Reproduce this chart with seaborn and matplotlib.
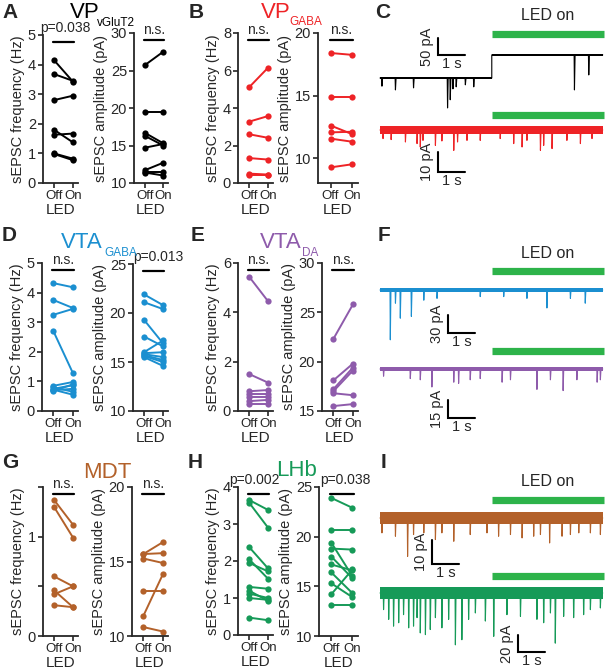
import matplotlib
matplotlib.use('Agg')
import matplotlib.pyplot as plt
import seaborn as sns
import pandas as pd

W, H = 606, 671

# colours
BLACK = '#000000'
RED = '#EE2326'
BLUE = '#1B8FD0'
PURPLE = '#8E5BAB'
BROWN = '#B3612A'
GREEN = '#169A58'
LED_GREEN = '#2DB34A'

# ---- paired Off/On data (one value per cell) ----
a_freq_off = [4.15, 3.68, 2.80, 1.80, 1.63, 1.00, 0.98]
a_freq_on = [3.42, 3.45, 2.95, 1.37, 1.67, 0.82, 0.77]
a_amp_off = [25.7, 19.5, 16.7, 16.3, 14.7, 11.7, 11.5, 11.4]
a_amp_on = [27.5, 19.5, 15.3, 15.0, 15.2, 12.7, 11.5, 11.0]

b_freq_off = [5.10, 3.27, 2.60, 1.33, 0.50, 0.42]
b_freq_on = [6.15, 3.57, 2.41, 1.25, 0.45, 0.42]
b_amp_off = [18.4, 14.9, 12.6, 12.05, 11.55, 9.25]
b_amp_on = [18.25, 14.9, 11.9, 12.1, 11.3, 9.5]

d_freq_off = [4.32, 3.75, 3.25, 2.70, 0.85, 0.80, 0.75, 0.72, 0.70, 0.68]
d_freq_on = [4.18, 3.48, 3.45, 1.28, 0.98, 0.65, 0.87, 0.55, 0.75, 0.90]
d_amp_off = [21.9, 21.1, 19.3, 17.6, 16.0, 15.8, 15.7, 15.6, 15.5, 15.9]
d_amp_on = [20.8, 20.4, 16.9, 16.6, 17.2, 15.5, 15.2, 15.0, 14.6, 16.0]

e_freq_off = [5.45, 1.50, 0.80, 0.70, 0.55, 0.40, 0.30]
e_freq_on = [4.45, 1.15, 0.85, 0.70, 0.55, 0.45, 0.30]
e_amp_off = [22.3, 18.1, 17.2, 16.8, 15.5, 17.0]
e_amp_on = [25.8, 19.8, 19.4, 16.6, 15.7, 19.1]

g_freq_off = [1.37, 1.30, 0.60, 0.46, 0.42, 0.31]
g_freq_on = [1.12, 0.99, 0.50, 0.29, 0.50, 0.29]
g_amp_off = [15.5, 15.5, 15.2, 13.05, 11.35, 10.6]
g_amp_on = [16.3, 15.56, 14.9, 13.05, 14.15, 10.3]

h_freq_off = [3.65, 3.58, 2.38, 2.05, 1.95, 1.30, 1.20, 1.12, 1.00, 0.47]
h_freq_on = [3.38, 2.90, 1.80, 1.52, 1.72, 1.25, 0.92, 1.00, 0.95, 0.40]
h_amp_off = [23.9, 20.7, 19.4, 18.8, 18.0, 17.2, 16.4, 15.3, 14.2, 13.1]
h_amp_on = [22.9, 20.7, 16.0, 18.7, 15.8, 16.6, 14.3, 13.9, 16.7, 13.1]

# ---- example traces: event times (s) and amplitudes (pA) ----
trace_len = 8.25
led_start = 4.15

c_black_t = [0.06, 0.56, 1.23, 2.49, 2.59, 2.69, 2.81, 3.15, 3.46, 7.19, 7.72]
c_black_amp = [24, 35, 29, 88, 64, 32, 26, 20, 26, 103, 59]
c_black_step_t, c_black_step = 4.14, 68
c_red_t = [0.10, 0.40, 0.93, 1.36, 1.48, 1.58, 2.04, 2.28, 2.72, 2.86, 3.21,
           3.70, 4.44, 4.94, 5.25, 5.43, 5.93, 6.05, 6.36, 6.91, 7.41, 7.84]
c_red_amp = [4.3, 4.8, 6.0, 6.8, 8.5, 5.2, 7.7, 5.5, 10.2, 6.0, 5.2,
             5.2, 4.3, 6.8, 8.5, 5.2, 10.2, 7.7, 9.3, 5.2, 6.8, 4.3]
f_blue_t = [0.37, 0.56, 0.74, 1.15, 1.61, 2.10, 3.70, 4.57, 5.43, 6.17, 7.04, 7.59]
f_blue_amp = [83, 22, 47, 44, 17, 14, 11, 11, 14, 30, 14, 22]
f_purple_t = [0.12, 1.11, 1.48, 1.91, 2.72, 2.90, 3.33, 3.70, 4.51, 4.82,
              5.80, 6.30, 6.77, 7.28, 8.03, 8.15]
f_purple_amp = [6, 8, 9, 15, 11, 12, 9, 8, 11, 9, 17, 9, 18, 9, 11, 9]
i_brown_t = [0.06, 0.56, 1.01, 1.23, 1.61, 2.04, 2.28, 2.72, 3.33, 3.95, 4.38,
             4.82, 5.25, 5.68, 5.93, 6.27, 6.73, 7.04, 7.35, 7.78, 8.15]
i_brown_amp = [6.2, 7.6, 16, 6.9, 6.2, 9, 6.2, 9.7, 6.9, 6.2, 7.6,
               6.9, 8.3, 7.6, 6.9, 10.4, 7.6, 6.9, 6.2, 6.2, 6.9]
i_green_t = [0.12, 0.31, 0.49, 0.68, 0.86, 1.05, 1.23, 1.36, 1.48, 1.67, 1.85,
             2.04, 2.28, 2.53, 2.78, 3.02, 3.27, 3.52, 3.89, 4.20, 4.69, 5.19,
             5.80, 6.05, 6.30, 6.48, 6.79, 7.16, 7.53, 7.78, 8.15]
i_green_amp = [19.6, 31, 39, 35, 25.5, 41, 39, 29, 47, 49, 43,
               29, 41, 31, 61, 55, 31, 23.5, 33, 51, 25.5, 27.5,
               31, 35, 23.5, 59, 27.5, 29, 25.5, 19.6, 17.6]

sns.set_style('ticks')
plt.rcParams['font.family'] = ['Liberation Sans', 'DejaVu Sans']
plt.rcParams['axes.linewidth'] = 1.3

fig = plt.figure(figsize=(W / 100, H / 100), dpi=100)


def box(x0, x1, y0, y1):
    return [x0 / W, 1 - y1 / H, (x1 - x0) / W, (y1 - y0) / H]


def ftext(x, y, s, **kw):
    fig.text(x / W, 1 - y / H, s, va='center', ha='left', **kw)


def pair_panel(rect, off, on, color, ylim, yticks, ylabel, sig, sig_x=0.5, yticklabels=None):
    ax = fig.add_axes(box(*rect))
    n = len(off)
    df = pd.DataFrame({'cell': list(range(n)) * 2,
                       'led': [0] * n + [1] * n,
                       'val': list(off) + list(on)})
    sns.lineplot(data=df, x='led', y='val', units='cell', estimator=None,
                 color=color, marker='o', markersize=4.5, markeredgewidth=0,
                 linewidth=1.4, legend=False, ax=ax)
    sns.despine(ax=ax)
    ax.set_xlim(-0.58, 1.26)
    ax.set_ylim(*ylim)
    ax.set_xticks([0, 1], ['Off', 'On'], fontsize=9.5)
    if yticklabels is None:
        yticklabels = [f'{v:g}' for v in yticks]
    ax.set_yticks(yticks, yticklabels, fontsize=10.5)
    ax.tick_params(length=3.5, width=1.2, pad=1.5)
    ax.set_xlabel('LED', fontsize=11, labelpad=0.5)
    ax.set_ylabel(ylabel, fontsize=10.5, labelpad=2)
    tr = ax.get_xaxis_transform()
    ax.plot([-0.05, 1.05], [0.955, 0.955], color='k', lw=1.6, transform=tr, clip_on=False)
    ty = 1.0 if sig.startswith('p') else 0.975
    ax.text(sig_x, ty, sig, transform=tr, ha='center', va='bottom', fontsize=10)
    return ax


FREQ = 'sEPSC frequency (Hz)'
AMP = 'sEPSC amplitude (pA)'

pair_panel((43, 78, 35, 183), a_freq_off, a_freq_on, BLACK, (0, 5), range(6), FREQ, 'p=0.038', 0.6)
pair_panel((134, 168, 33, 183), a_amp_off, a_amp_on, BLACK, (10, 30), [10, 15, 20, 25, 30], AMP, 'n.s.')
pair_panel((238, 273, 33, 183), b_freq_off, b_freq_on, RED, (0, 8), [0, 2, 4, 6, 8], FREQ, 'n.s.')
pair_panel((318, 358, 33, 183), b_amp_off, b_amp_on, RED, (8, 20), [10, 15, 20], AMP, 'n.s.')
pair_panel((42, 78, 263, 411), d_freq_off, d_freq_on, BLUE, (0, 5), range(6), FREQ, 'n.s.')
pair_panel((133, 168, 264, 411), d_amp_off, d_amp_on, BLUE, (10, 25), [10, 15, 20, 25], AMP, 'p=0.013', 0.75)
pair_panel((238, 273, 263, 411), e_freq_off, e_freq_on, PURPLE, (0, 6), [0, 2, 4, 6], FREQ, 'n.s.')
pair_panel((322, 358, 263, 411), e_amp_off, e_amp_on, PURPLE, (15, 30), [15, 20, 25, 30], AMP, 'n.s.')
pair_panel((43, 78, 487, 636), g_freq_off, g_freq_on, BROWN, (0, 1.5), [0, 0.5, 1, 1.5], FREQ, 'n.s.',
           yticklabels=['0', '', '1', ''])
pair_panel((132, 168, 487, 636), g_amp_off, g_amp_on, BROWN, (10, 20), [10, 15, 20], AMP, 'n.s.')
pair_panel((238, 273, 487, 635), h_freq_off, h_freq_on, GREEN, (0, 4), range(5), FREQ, 'p=0.002', 0.3)
pair_panel((319, 358, 487, 636), h_amp_off, h_amp_on, GREEN, (10, 25), [10, 15, 20, 25], AMP, 'p=0.038', 0.68)

# titles
ftext(70, 13, 'VP', fontsize=16, color=BLACK)
ftext(97, 23, 'vGluT2', fontsize=8.5, color=BLACK)
ftext(261, 13, 'VP', fontsize=16, color=RED)
ftext(289, 22, 'GABA', fontsize=8.5, color=RED)
ftext(61, 243, 'VTA', fontsize=16, color=BLUE)
ftext(104, 253, 'GABA', fontsize=8.5, color=BLUE)
ftext(260, 243, 'VTA', fontsize=16, color=PURPLE)
ftext(302, 253, 'DA', fontsize=8.5, color=PURPLE)
ftext(83, 472, 'MDT', fontsize=16, color=BROWN)
ftext(276, 470, 'LHb', fontsize=16, color=GREEN)

# panel letters
for letter, x, y in [('A', 2, 12), ('B', 189, 12), ('C', 375, 12),
                     ('D', 2, 235), ('E', 191, 235), ('F', 378, 235),
                     ('G', 2, 462), ('H', 188, 462), ('I', 381, 462)]:
    ftext(x, y, letter, fontsize=15, fontweight='bold')


def trace_ax(top, bottom, base_px, px_per_pa):
    ax = fig.add_axes(box(370, 606, top, bottom))
    ax.set_xlim(-10 / 27, 226 / 27)
    ax.set_ylim(-(bottom - base_px) / px_per_pa, (base_px - top) / px_per_pa)
    ax.axis('off')
    return ax


def draw_trace(ax, ev_t, ev_amp, noise, color, step_t=None, step=0):
    def level(t):
        return step if (step_t is not None and t >= step_t) else 0
    xs, ys = [0], [0]
    marks = sorted(zip(ev_t, ev_amp))
    if step_t is not None:
        marks = sorted(marks + [(step_t, None)], key=lambda m: m[0])
    for t, a in marks:
        if a is None:
            xs += [t, t]
            ys += [0, step]
            continue
        b = level(t)
        xs += [t, t + 0.012, t + 0.035]
        ys += [b, b - a, b]
    xs.append(trace_len)
    ys.append(level(trace_len))
    if step_t is not None:
        bx = [0, step_t, step_t, trace_len]
        by = [0, 0, step, step]
    else:
        bx, by = [0, trace_len], [0, 0]
    ax.fill_between(bx, [v - noise / 2 for v in by], [v + noise / 2 for v in by],
                    color=color, lw=0)
    ax.plot(xs, ys, color=color, lw=0.8)


def led_bar(ax, yfrac, label=False):
    tr = ax.get_xaxis_transform()
    ax.plot([led_start, trace_len + 0.05], [yfrac, yfrac], color=LED_GREEN, lw=5.2,
            solid_capstyle='butt', transform=tr, clip_on=False)
    if label:
        ax.text((led_start + trace_len) / 2, yfrac + 0.17, 'LED on', transform=tr,
                ha='center', va='center', fontsize=11.5)


def scale_bar(ax, t0, y0, size, label):
    ax.plot([t0, t0, t0 + 1], [y0 + size, y0, y0], color='k', lw=1.5,
            solid_joinstyle='miter', clip_on=False)
    ax.annotate(label, xy=(t0, y0 + size / 2), xytext=(-3, 0), textcoords='offset points',
                rotation=90, ha='right', va='center', fontsize=10.5)
    ax.annotate('1 s', xy=(t0 + 0.5, y0), xytext=(0, -1.5), textcoords='offset points',
                ha='center', va='top', fontsize=10.5)


# C
ax = trace_ax(0, 110, 78, 0.34)
draw_trace(ax, c_black_t, c_black_amp, 5, BLACK, c_black_step_t, c_black_step)
led_bar(ax, (110 - 34) / 110, label=True)
scale_bar(ax, 2.15, 67.6, 50, '50 pA')
ax = trace_ax(110, 195, 130, 2.0)
draw_trace(ax, c_red_t, c_red_amp, 3.7, RED)
led_bar(ax, (195 - 115) / 85)
scale_bar(ax, 2.15, -21, 10, '10 pA')

# F
ax = trace_ax(240, 345, 290, 0.6)
draw_trace(ax, f_blue_t, f_blue_amp, 8, BLUE)
led_bar(ax, (345 - 271) / 105, label=True)
scale_bar(ax, 2.52, -71.7, 30, '30 pA')
ax = trace_ax(345, 440, 369, 1.2)
draw_trace(ax, f_purple_t, f_purple_amp, 4, PURPLE)
led_bar(ax, (440 - 351) / 95)
scale_bar(ax, 2.52, -40.8, 15, '15 pA')

# I
ax = trace_ax(460, 570, 518, 2.4)
draw_trace(ax, i_brown_t, i_brown_amp, 5, BROWN)
led_bar(ax, (570 - 500) / 110, label=True)
scale_bar(ax, 1.93, -19.2, 10, '10 pA')
ax = trace_ax(570, 671, 593, 0.85)
draw_trace(ax, i_green_t, i_green_amp, 14, GREEN)
led_bar(ax, (671 - 576) / 101)
scale_bar(ax, 5.11, -69.4, 20, '20 pA')

fig.savefig('out.png', dpi=100)
